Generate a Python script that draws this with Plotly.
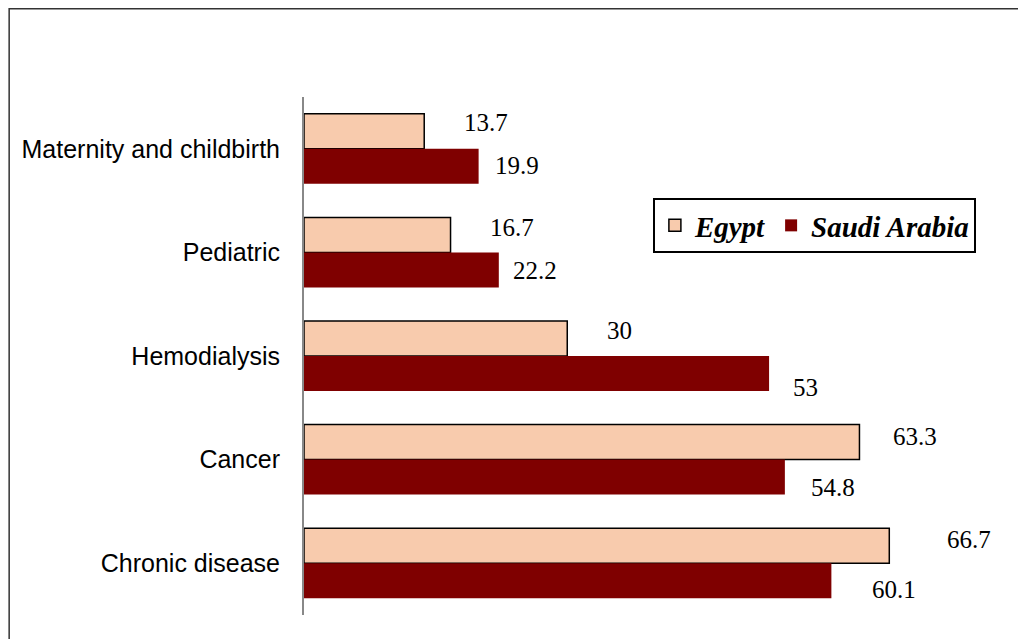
import plotly.graph_objects as go

categories = ["Maternity and childbirth", "Pediatric", "Hemodialysis", "Cancer", "Chronic disease"]
egypt = [13.7, 16.7, 30, 63.3, 66.7]
saudi = [19.9, 22.2, 53, 54.8, 60.1]
series_names = ["Egypt", "Saudi Arabia"]

# label placement offsets (pixels): horizontal gap from bar end, vertical shift
egypt_label_dx = [62, 61, 52, 56, 80]
egypt_label_dy = [26, 25, 26, 23, 24]
saudi_label_dx = [38, 36, 36, 48, 63]
saudi_label_dy = [-17, -18, -31, -28, -26]

fig = go.Figure()
fig.add_trace(go.Bar(
    y=categories, x=egypt, name=series_names[0], orientation="h",
    marker=dict(color="#F8CBAD", line=dict(color="black", width=1.5)),
))
fig.add_trace(go.Bar(
    y=categories, x=saudi, name=series_names[1], orientation="h",
    marker=dict(color="#7F0000", line=dict(width=0)),
))

annotations = []
for vals, dxs, dys in [(egypt, egypt_label_dx, egypt_label_dy), (saudi, saudi_label_dx, saudi_label_dy)]:
    for cat, v, dx, dy in zip(categories, vals, dxs, dys):
        annotations.append(dict(
            x=v, y=cat, xref="x", yref="y", text=f"{v:g}", showarrow=False,
            xanchor="center", yanchor="middle", xshift=dx, yshift=dy,
            font=dict(family="Liberation Serif", size=25, color="black"),
        ))

fig.update_layout(
    width=1018, height=631,
    margin=dict(l=296, r=20, t=89, b=24),
    paper_bgcolor="white", plot_bgcolor="white",
    barmode="group", bargap=0.324, bargroupgap=0,
    xaxis=dict(range=[0, 80], visible=False, fixedrange=True),
    yaxis=dict(
        autorange="reversed", showline=True, linecolor="#888888", linewidth=2,
        showgrid=False, zeroline=False, ticks="", ticklabelstandoff=17,
        tickfont=dict(family="Liberation Sans, Arial", size=25, color="black"),
    ),
    legend=dict(
        orientation="h", x=0.497, y=0.805, xanchor="left", yanchor="top",
        bgcolor="white", bordercolor="black", borderwidth=2,
        font=dict(family="Liberation Serif", size=29, color="black", weight="bold", style="italic"),
        itemwidth=30, traceorder="normal",
    ),
    annotations=annotations,
    shapes=[dict(type="rect", xref="paper", yref="paper", x0=-0.42, x1=1.2, y0=-0.3, y1=1.1704,
                 line=dict(color="#333333", width=1.5), fillcolor="rgba(0,0,0,0)", layer="below")],
    showlegend=True,
)

fig.write_html("out.html")
